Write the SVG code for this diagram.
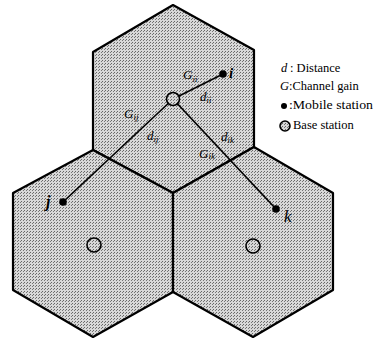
<svg xmlns="http://www.w3.org/2000/svg" width="374" height="339" viewBox="0 0 374 339">
<defs>
<pattern id="tex" width="3" height="3" patternUnits="userSpaceOnUse">
<rect width="3" height="3" fill="#d8d8d8"/>
<rect x="0" y="0" width="1" height="1" fill="#666"/>
<rect x="2" y="1" width="1" height="1" fill="#777"/>
</pattern>
<style>
.hex{fill:url(#tex);stroke:#000;stroke-width:2.2;stroke-linejoin:round}
.conn{stroke:#000;stroke-width:1.7;fill:none}
.ms{fill:#000}
.bs{fill:url(#tex);stroke:#000;stroke-width:1.6}
.lbl{font-family:"Liberation Serif","Times New Roman",serif;font-style:italic;fill:#000}
.sub{font-size:9px}
.leg{font-family:"Liberation Serif","Times New Roman",serif;font-size:12.5px;fill:#000}
</style>
</defs>
<rect width="374" height="339" fill="#fff"/>
<g id="cell-top"><polygon class="hex" points="173,5 254,50 254,147 173,193 93,150 93,52"/></g>
<g id="cell-left"><polygon class="hex" points="93,150 173,193 173,292 93,337 13,290 13,193"/></g>
<g id="cell-right"><polygon class="hex" points="254,147 333,193 333,290 253,337 173,292 173,193"/></g>
<g id="connectors">
<line class="conn" x1="173" y1="99" x2="223" y2="74"/>
<line class="conn" x1="173" y1="99" x2="63" y2="202"/>
<line class="conn" x1="173" y1="99" x2="276" y2="209"/>
</g>
<g id="bs-top"><circle class="bs" cx="173" cy="99" r="6.5"/></g>
<g id="bs-left"><circle class="bs" cx="94" cy="245" r="7"/></g>
<g id="bs-right"><circle class="bs" cx="253" cy="246" r="7"/></g>
<g id="ms-i"><circle class="ms" cx="223" cy="74" r="3.8"/><text class="lbl" x="229" y="78" font-size="15" font-weight="bold">i</text></g>
<g id="ms-j"><circle class="ms" cx="63" cy="202" r="3.8"/><text class="lbl" x="46" y="207" font-size="16" font-weight="bold">j</text></g>
<g id="ms-k"><circle class="ms" cx="276" cy="209" r="3.8"/><text class="lbl" x="284" y="222" font-size="17">k</text></g>
<g id="labels">
<text class="lbl" x="183" y="79" font-size="13">G<tspan class="sub" dy="3">ii</tspan></text>
<text class="lbl" x="200" y="101" font-size="13">d<tspan class="sub" dy="2">ii</tspan></text>
<text class="lbl" x="124" y="118" font-size="13">G<tspan class="sub" dy="2">ij</tspan></text>
<text class="lbl" x="147" y="140" font-size="13">d<tspan class="sub" dy="2">ij</tspan></text>
<text class="lbl" x="221" y="141" font-size="13">d<tspan class="sub" dy="2">ik</tspan></text>
<text class="lbl" x="199" y="158" font-size="13">G<tspan class="sub" dy="1">ik</tspan></text>
</g>
<g id="legend">
<text class="lbl" x="281" y="72" font-size="12.5">d</text>
<text class="leg" x="290" y="72">: Distance</text>
<text class="lbl" x="280" y="90" font-size="12.5">G</text>
<text class="leg" x="289" y="90">:Channel gain</text>
<circle cx="284" cy="106" r="3"/>
<text class="leg" x="289" y="109" textLength="84" lengthAdjust="spacingAndGlyphs">:Mobile station</text>
<circle class="bs" cx="285" cy="126" r="5"/>
<text class="leg" x="293" y="129">Base station</text>
</g>
</svg>
